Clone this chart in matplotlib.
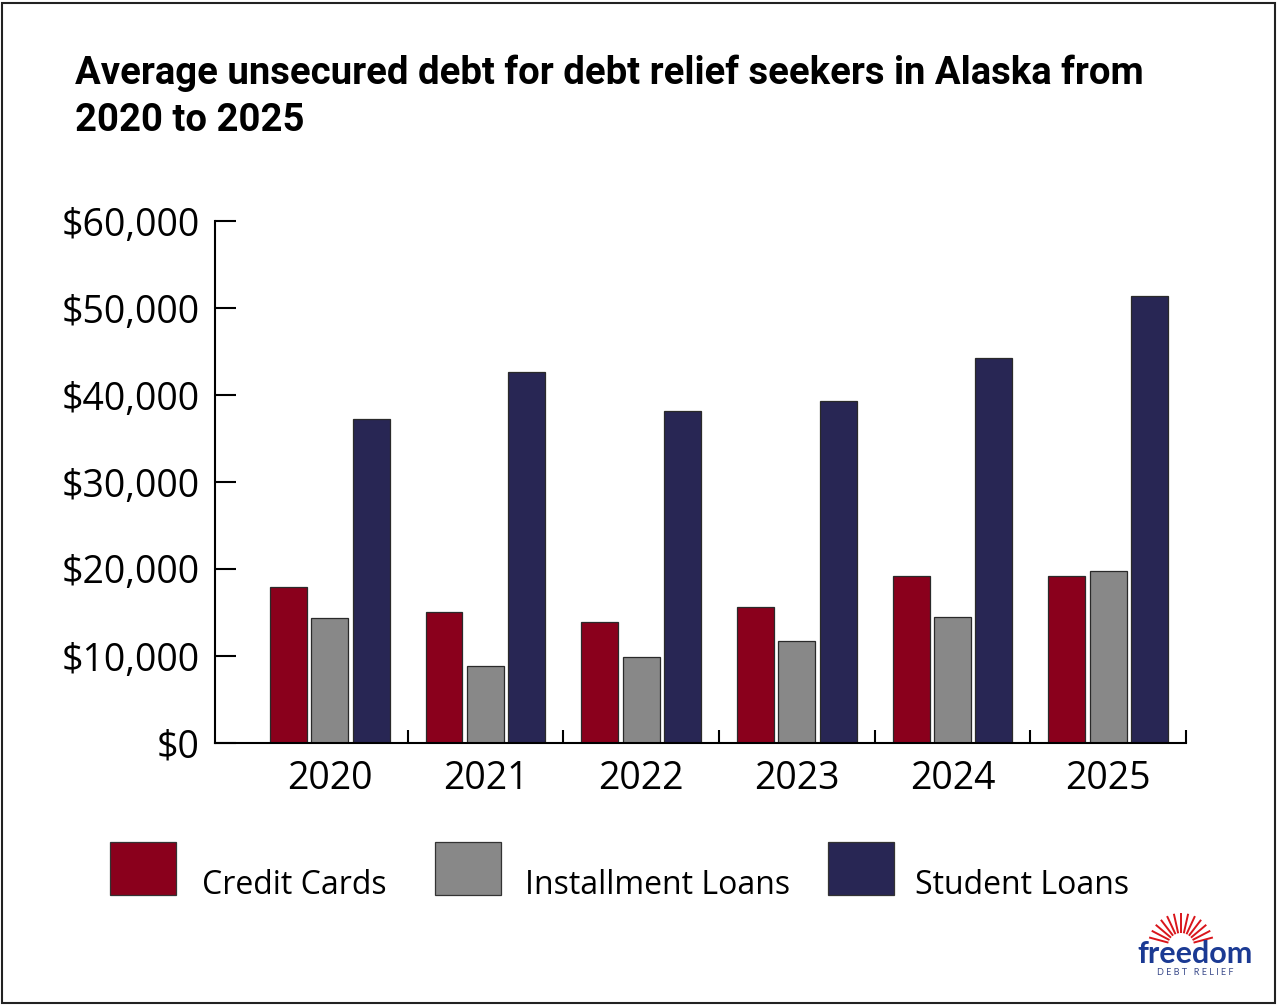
import numpy as np
import matplotlib
matplotlib.use("Agg")
import matplotlib.pyplot as plt
from matplotlib.patches import Rectangle
from matplotlib.lines import Line2D
from matplotlib.ticker import FuncFormatter, MultipleLocator

# data
years = ["2020", "2021", "2022", "2023", "2024", "2025"]
credit_cards = [17950, 15100, 13900, 15650, 19150, 19250]
installment_loans = [14350, 8850, 9900, 11700, 14500, 19750]
student_loans = [37200, 42600, 38200, 39350, 44250, 51400]

series_names = ["Credit Cards", "Installment Loans", "Student Loans"]
series_colors = ["#8a001c", "#888888", "#282654"]

W, H = 1280, 1006
fig = plt.figure(figsize=(W / 100, H / 100), dpi=100)

def px(x, y):
    # pixel position -> figure fraction
    return x / W, 1 - y / H

ax = fig.add_axes([215 / W, (H - 743) / H, 971 / W, 522 / H])

x = np.arange(len(years))
bw = 0.237
off = 0.266
for k, vals in enumerate([credit_cards, installment_loans, student_loans]):
    ax.bar(x + (k - 1) * off, vals, width=bw, color=series_colors[k],
           edgecolor="#2a2a2a", linewidth=0.9, zorder=2)

ax.set_xlim(-0.737, 5.5)
ax.set_ylim(0, 60000)

for s in ["top", "right"]:
    ax.spines[s].set_visible(False)
for s in ["left", "bottom"]:
    ax.spines[s].set_linewidth(1.5)
    ax.spines[s].set_color("black")

body_font = ["Open Sans", "DejaVu Sans"]

ax.yaxis.set_major_locator(MultipleLocator(10000))
ax.yaxis.set_major_formatter(FuncFormatter(lambda v, p: "${:,.0f}".format(v)))
ax.tick_params(axis="y", direction="in", length=15, width=1.5, pad=11,
               labelsize=27, colors="black")

ax.set_xticks(x)
ax.set_xticklabels(years)
ax.set_xticks(x + 0.5, minor=True)
ax.tick_params(axis="x", which="major", length=0, pad=12, labelsize=27)
ax.tick_params(axis="x", which="minor", direction="in", length=9.5, width=1.5)
for lab in ax.get_xticklabels() + ax.get_yticklabels():
    lab.set_family(body_font)

# title
title_font = ["Roboto", "DejaVu Sans"]
fig.text(*px(75, 84), "Average unsecured debt for debt relief seekers in Alaska from",
         fontsize=27.5, fontweight="bold", family=title_font, va="baseline")
fig.text(*px(75, 131), "2020 to 2025",
         fontsize=27.5, fontweight="bold", family=title_font, va="baseline")

# legend
legend_boxes = [110, 435, 828]
legend_text_x = [202, 525, 915]
for k, name in enumerate(series_names):
    x0, y0 = px(legend_boxes[k], 895)
    fig.add_artist(Rectangle((x0, y0), 66 / W, 53 / H, transform=fig.transFigure,
                             facecolor=series_colors[k], edgecolor="#333333", linewidth=0.9))
    fig.text(*px(legend_text_x[k], 894), name, fontsize=23, family=body_font,
             va="baseline", ha="left")

# logo
cx, cy = 1181, 946
for a in np.linspace(15, 165, 13):
    r = np.radians(a)
    x1, y1 = px(cx + 13 * np.cos(r), cy - 13 * np.sin(r))
    x2, y2 = px(cx + 33 * np.cos(r), cy - 33 * np.sin(r))
    fig.add_artist(Line2D([x1, x2], [y1, y2], transform=fig.transFigure,
                          color="#d9151b", linewidth=1.4, solid_capstyle="butt"))
fig.text(*px(1195, 963), "freedom", fontsize=22, fontweight="bold", color="#1b3a93",
         family=["Lato", "DejaVu Sans"], ha="center", va="baseline")
fig.text(*px(1195, 975), "D E B T   R E L I E F", fontsize=6.5, color="#3a4a8a",
         family=["Lato", "DejaVu Sans"], ha="center", va="baseline")

# outer frame
fx0, fy0 = px(2, 1003)
fig.add_artist(Rectangle((fx0, fy0), 1273 / W, 1000 / H, transform=fig.transFigure,
                         fill=False, edgecolor="#222222", linewidth=1.5))

fig.savefig("out.png", dpi=100)
